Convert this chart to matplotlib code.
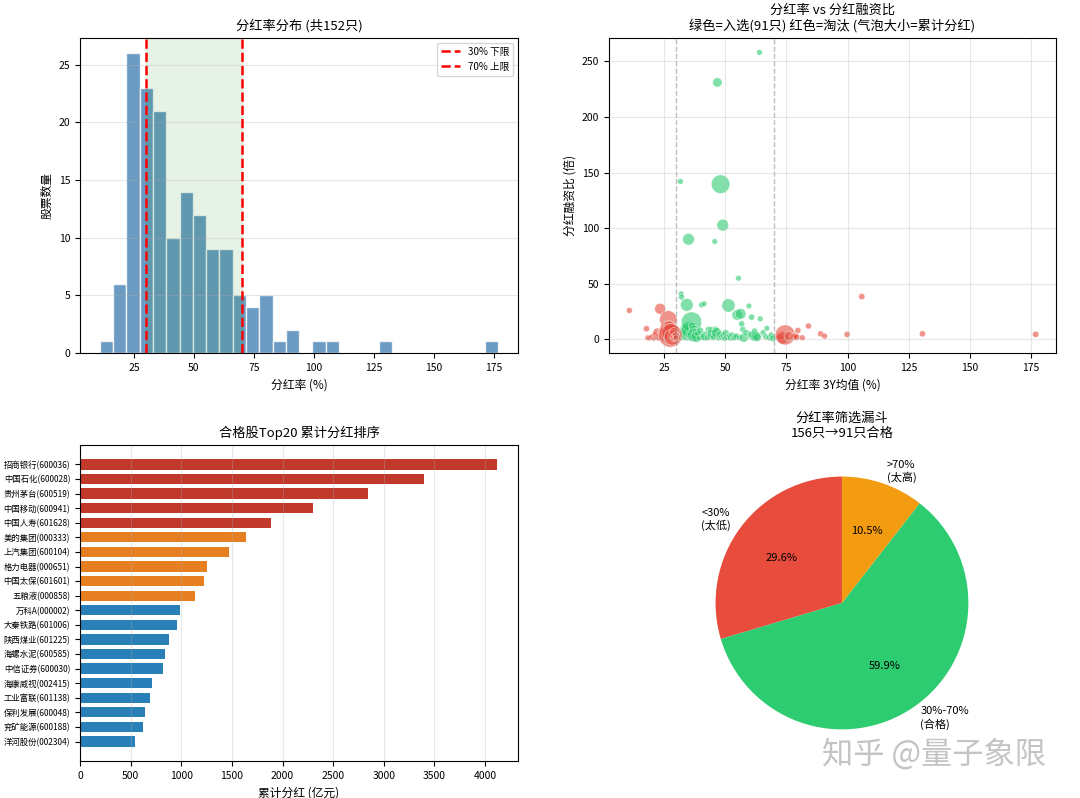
import numpy as np
import matplotlib
matplotlib.use('Agg')
import matplotlib.pyplot as plt

plt.rcParams['font.family'] = ['Noto Sans CJK SC', 'DejaVu Sans']
plt.rcParams['axes.unicode_minus'] = False

# 分红率 3Y均值 (%) / 分红融资比 (倍) / 累计分红 (亿元)，每只股票一项
rate = [10.8, 17.8, 18.3, 19.0, 20.0, 20.8, 21.4,
        21.9, 22.3, 22.6, 23.0, 23.4, 23.7, 24.0, 24.3, 24.6, 24.9, 25.1, 25.4, 25.6,
        25.8, 26.0, 26.2, 26.4, 26.6, 26.7, 26.9, 27.0, 27.1, 27.15, 27.2, 27.25, 27.27,
        27.45, 27.6, 27.8, 28.0, 28.3, 28.5, 28.8, 29.0, 29.2, 29.5, 29.7, 29.9,
        30.3, 30.6, 30.9, 31.2, 31.5, 31.7, 31.9, 32.0, 32.1, 32.4, 32.7,
        33.0, 33.3, 33.6, 33.9, 34.2, 34.3, 34.6, 34.8, 35.0, 35.2, 35.5, 35.8, 36.0,
        36.2, 36.5, 36.8, 37.1, 37.5, 37.8, 38.0, 38.3,
        38.8, 39.2, 39.7, 40.3, 40.8, 41.4, 42.0, 42.6, 43.1, 43.6,
        44.2, 44.5, 44.9, 45.3, 45.7, 46.1, 46.5, 46.8, 47.2, 47.6, 48.1, 48.5, 49.0, 49.3,
        49.8, 50.2, 50.7, 51.3, 51.7, 52.2, 52.7, 53.2, 53.7, 54.2, 54.6, 54.9,
        55.4, 55.9, 56.3, 56.7, 57.2, 57.6, 58.5, 59.7, 60.3,
        60.8, 61.2, 61.6, 62.0, 62.5, 63.0, 64.0, 64.3, 65.5,
        66.5, 67.0, 68.0, 68.8, 69.5,
        72.5, 73.5, 74.5, 76.0, 77.8, 78.5, 79.2, 79.7, 81.5, 84.0, 89.0, 90.6,
        99.8, 105.8, 130.6, 176.9]
ratio = [26, 9.6, 1.5, 1.2, 2.2, 1.0, 3.5,
         1.8, 6.0, 2.5, 1.2, 27.5, 4.0, 1.5, 7.5, 2.0, 0.8, 5.5, 3.0, 1.2,
         9.0, 2.4, 4.5, 1.0, 6.5, 18.0, 3.2, 8.0, 1.8, 11.0, 0.6, 5.0, 2.8,
         1.5, 3.6, 6.0, 1.0, 2.0, 4.2, 1.2, 7.0, 2.6, 0.9, 3.8, 1.6,
         2.0, 4.5, 1.2, 6.0, 2.8, 142, 1.5, 41, 38, 3.5, 8.0,
         1.8, 10.0, 3.0, 5.5, 1.2, 31, 7.0, 6.0, 90, 2.2, 8.5, 4.0, 1.0,
         15.5, 12.0, 3.0, 9.0, 4.0, 1.5, 6.5, 2.5,
         5.0, 1.2, 8.0, 31, 2.0, 32, 3.0, 1.5, 9.0, 2.2,
         8.5, 5.0, 1.5, 2.5, 88, 9.0, 6.0, 231, 1.2, 4.5, 139.5, 2.0, 102.7, 3.5,
         1.0, 5.5, 2.0, 30.5, 3.0, 1.5, 4.0, 1.2, 2.5, 1.8, 3.2, 22,
         55, 1.5, 23, 14, 9.0, 1.5, 6.0, 30, 3.5,
         20, 4.0, 1.2, 7.5, 3.0, 2.0, 258, 18.5, 6.0,
         2.5, 10.0, 1.5, 4.0, 1.0,
         2.0, 1.5, 4.0, 3.0, 2.5, 3.0, 2.0, 8.0, 1.5, 12.0, 5.0, 3.0,
         4.5, 38.5, 5.0, 4.5]
dividend = [120, 150, 80, 60, 110, 70, 200,
            90, 600, 150, 100, 900, 300, 120, 400, 180, 90, 700, 250, 140,
            1100, 500, 1500, 200, 2000, 2600, 800, 3200, 300, 1200, 150, 450, 650,
            900, 5000, 2800, 350, 2200, 600, 200, 400, 250, 120, 180, 90,
            150, 250, 100, 300, 120, 150, 90, 120, 160, 200, 350,
            180, 500, 220, 400, 150, 1475, 600, 2305, 1220, 250, 2840, 700, 180,
            4120, 450, 300, 550, 1890, 200, 350, 1140,
            250, 120, 300, 150, 200, 130, 815, 160, 200, 110,
            250, 690, 150, 200, 130, 220, 880, 715, 120, 300, 3395, 180, 1255, 250,
            160, 350, 200, 1640, 150, 250, 180, 130, 200, 150, 120, 960,
            140, 170, 985, 200, 180, 645, 250, 140, 300,
            200, 620, 250, 180, 835, 545, 150, 140, 160,
            150, 130, 200, 170, 250,
            300, 1200, 3500, 600, 250, 150, 180, 130, 100, 120, 130, 110,
            140, 150, 140, 150]

# 合格股 Top20
top_names = ['招商银行(600036)', '中国石化(600028)', '贵州茅台(600519)', '中国移动(600941)',
             '中国人寿(601628)', '美的集团(000333)', '上汽集团(600104)', '格力电器(000651)',
             '中国太保(601601)', '五粮液(000858)', '万科A(000002)', '大秦铁路(601006)',
             '陕西煤业(601225)', '海螺水泥(600585)', '中信证券(600030)', '海康威视(002415)',
             '工业富联(601138)', '保利发展(600048)', '兖矿能源(600188)', '洋河股份(002304)']
top_values = [4120, 3395, 2840, 2305, 1890, 1640, 1475, 1255, 1220, 1140,
              985, 960, 880, 835, 815, 714, 690, 642, 619, 543]

pie_labels = ['<30%\n(太低)', '30%-70%\n(合格)', '>70%\n(太高)']

rate = np.array(rate)
ratio = np.array(ratio)
dividend = np.array(dividend)
ok = (rate >= 30) & (rate <= 70)

fig = plt.figure(figsize=(10.8, 7.98), dpi=100)
ax1 = fig.add_axes([0.0741, 0.5576, 0.4056, 0.3947])
ax2 = fig.add_axes([0.5639, 0.5576, 0.4139, 0.3947])
ax3 = fig.add_axes([0.0741, 0.0464, 0.4056, 0.396])
ax4 = fig.add_axes([0.6333, 0.0464, 0.2926, 0.396])

# 1. 分红率分布
ax1.hist(rate, bins=30, color='steelblue', alpha=0.8, edgecolor='white')
ax1.axvline(30, color='red', linestyle='--', linewidth=1.8, label='30% 下限')
ax1.axvline(70, color='red', linestyle='--', linewidth=1.8, label='70% 上限')
ax1.axvspan(30, 70, color='green', alpha=0.1)
ax1.set_title(f'分红率分布 (共{len(rate)}只)', fontsize=9.5)
ax1.set_xlabel('分红率 (%)', fontsize=8.5)
ax1.set_ylabel('股票数量', fontsize=8.5)
ax1.legend(fontsize=7, loc='upper right')
ax1.grid(axis='y', alpha=0.3)

# 2. 分红率 vs 分红融资比
ax2.scatter(rate[ok], ratio[ok], s=dividend[ok] / 20 + 10, c='#2ecc71',
            alpha=0.6, edgecolors='white', linewidths=0.5)
ax2.scatter(rate[~ok], ratio[~ok], s=dividend[~ok] / 18 + 12, c='#e74c3c',
            alpha=0.6, edgecolors='white', linewidths=0.5)
ax2.axvline(30, color='gray', linestyle='--', alpha=0.5, linewidth=1)
ax2.axvline(70, color='gray', linestyle='--', alpha=0.5, linewidth=1)
ax2.set_title(f'分红率 vs 分红融资比\n绿色=入选({ok.sum()}只) 红色=淘汰 (气泡大小=累计分红)',
              fontsize=9.5, linespacing=1.15)
ax2.set_xlabel('分红率 3Y均值 (%)', fontsize=8.5)
ax2.set_ylabel('分红融资比 (倍)', fontsize=8.5)
ax2.grid(alpha=0.3)

# 3. Top20
colors = ['#c0392b'] * 5 + ['#e67e22'] * 5 + ['#2980b9'] * 10
y = np.arange(len(top_names))
ax3.barh(y, top_values, height=0.7, color=colors)
ax3.set_yticks(y)
ax3.set_yticklabels(top_names)
ax3.invert_yaxis()
ax3.set_title('合格股Top20 累计分红排序', fontsize=9.5)
ax3.set_xlabel('累计分红 (亿元)', fontsize=8.5)
ax3.grid(axis='x', alpha=0.3)

# 4. 筛选漏斗
counts = [(rate < 30).sum(), ok.sum(), (rate > 70).sum()]
ax4.pie(counts, labels=pie_labels, autopct='%1.1f%%', startangle=90,
        colors=['#e74c3c', '#2ecc71', '#f39c12'],
        textprops={'fontsize': 8})
ax4.set_title('分红率筛选漏斗\n156只→91只合格', fontsize=9.5, linespacing=1.15)

for ax in (ax1, ax2, ax3):
    ax.tick_params(labelsize=7.5)
ax3.tick_params(axis='y', labelsize=6)

fig.text(0.761, 0.043, '知乎 @量子象限', fontsize=22.5, color='#c4c4c4')

fig.savefig('out.png', dpi=100)
